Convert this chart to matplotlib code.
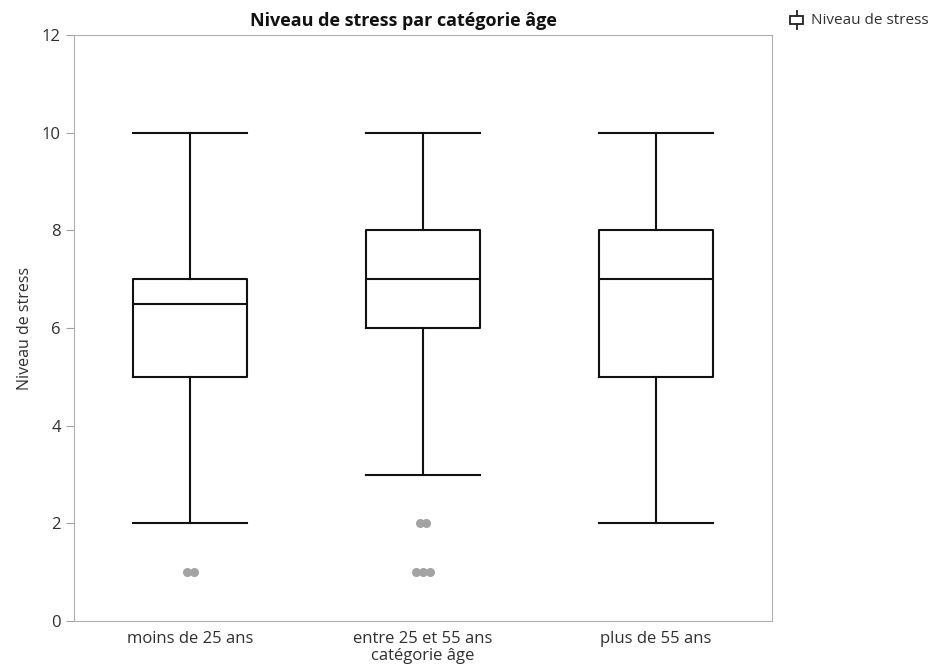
import numpy as np
import matplotlib.pyplot as plt
from matplotlib.patches import Rectangle
from matplotlib.lines import Line2D

# data
categories = ["moins de 25 ans", "entre 25 et 55 ans", "plus de 55 ans"]
q1 = [5, 6, 5]
median = [6.5, 7, 7]
q3 = [7, 8, 8]
whisker_low = [2, 3, 2]
whisker_high = [10, 10, 10]
outliers = [[1, 1], [2, 2, 1, 1, 1], []]

plt.rcParams['font.family'] = ['Open Sans', 'DejaVu Sans']

fig = plt.figure(figsize=(9.33, 6.68), dpi=100)
ax = fig.add_axes([74 / 933, 1 - 621 / 668, 698 / 933, 586 / 668])

stats = []
for i, name in enumerate(categories):
    stats.append(dict(label=name, med=median[i], q1=q1[i], q3=q3[i],
                      whislo=whisker_low[i], whishi=whisker_high[i], fliers=[]))

line_kw = dict(color="#111111", linewidth=1.5)
ax.bxp(stats, positions=range(len(categories)), widths=0.49,
       showfliers=False, boxprops=line_kw, medianprops=line_kw,
       whiskerprops=line_kw, capprops=line_kw, capwidths=0.49)

# outliers, spread a little when values repeat
for i, vals in enumerate(outliers):
    vals = np.array(vals, dtype=float)
    for v in np.unique(vals):
        n = int(np.sum(vals == v))
        offs = (np.arange(n) - (n - 1) / 2) * 0.03
        ax.plot(i + offs, [v] * n, 'o', color="#a3a3a3", markersize=6.5,
                markeredgewidth=0)

ax.set_xlim(-0.5, 2.5)
ax.set_ylim(0, 12)
ax.set_yticks(range(0, 13, 2))
ax.set_xticks(range(len(categories)))
ax.set_xticklabels(categories)

for s in ax.spines.values():
    s.set_color("#b0b0b0")
ax.tick_params(axis="both", colors="#a0a0a0", labelcolor="#303030",
               labelsize=12, length=6)
ax.tick_params(axis="x", length=0, pad=7)

ax.set_xlabel("catégorie âge", fontsize=12, color="#303030", labelpad=1)
ax.set_ylabel("Niveau de stress", fontsize=11.5, color="#303030", labelpad=6)

fig.text(403 / 933, 1 - 21 / 668, "Niveau de stress par catégorie âge",
         fontsize=13, fontweight="bold", color="#111111",
         ha="center", va="center")

# legend in the top right corner
fig.add_artist(Rectangle((790 / 933, 1 - 24 / 668), 13 / 933, 8 / 668,
                         transform=fig.transFigure, fill=False,
                         edgecolor="#222222", linewidth=1.3))
fig.add_artist(Line2D([796.5 / 933] * 2, [1 - 29 / 668, 1 - 24 / 668],
                      transform=fig.transFigure, color="#222222", linewidth=1.3))
fig.add_artist(Line2D([796.5 / 933] * 2, [1 - 16 / 668, 1 - 11 / 668],
                      transform=fig.transFigure, color="#222222", linewidth=1.3))
fig.text(811 / 933, 1 - 20 / 668, "Niveau de stress", fontsize=11,
         color="#303030", va="center", ha="left")

plt.savefig("out.png", dpi=100)
